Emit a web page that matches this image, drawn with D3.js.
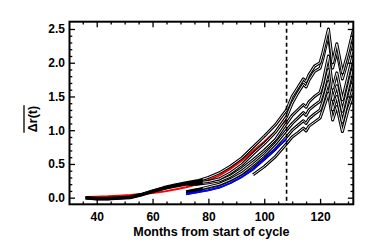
<!DOCTYPE html>
<html>
<head>
<meta charset="utf-8">
<script src="https://cdn.jsdelivr.net/npm/d3@7"></script>
<style>
  html, body { margin: 0; padding: 0; background: #fff; }
  text { font-family: "Liberation Sans", Arial, sans-serif; font-weight: bold; }
</style>
</head>
<body>
<div id="chart"></div>
<script>
// months from start of cycle (shared x grid)
const months = [36, 40, 44, 48, 52, 56, 60, 64, 68, 72, 76, 80, 84, 88, 92, 96, 100, 104, 108,
    110, 112, 114, 115, 116, 118, 120, 121, 123, 124.5, 126, 128, 130, 132]

// black curves (null = not yet started)
const cycleA = [0.00, -0.01, -0.01, 0.00, 0.01, 0.05, 0.10, 0.15, 0.19, 0.22, 0.25, 0.30, 0.37, 0.47, 0.59, 0.75, 0.91, 1.08, 1.30,
    1.50, 1.63, 1.76, 1.72, 1.82, 1.95, 2.00, 2.15, 2.50, 2.00, 2.28, 1.85, 2.15, 2.50]
const cycleB = [0.00, -0.015, -0.015, -0.005, 0.005, 0.045, 0.095, 0.14, 0.18, 0.21, 0.22, 0.24, 0.28, 0.37, 0.49, 0.65, 0.80, 0.97, 1.20,
    1.40, 1.55, 1.68, 1.64, 1.74, 1.87, 1.92, 2.06, 2.42, 1.92, 2.17, 1.76, 2.05, 2.40]
const cycleC = [-0.005, -0.02, -0.02, -0.01, 0.00, 0.04, 0.09, 0.135, 0.17, 0.20, 0.20, 0.22, 0.25, 0.32, 0.43, 0.56, 0.70, 0.86, 1.10,
    1.22, 1.30, 1.38, 1.34, 1.42, 1.50, 1.56, 1.70, 2.10, 1.62, 1.85, 1.45, 1.80, 2.15]
const cycleD = [null, null, null, null, null, null, null, null, null, 0.09, 0.12, 0.16, 0.20, 0.27, 0.36, 0.49, 0.63, 0.80, 1.00,
    1.10, 1.18, 1.26, 1.22, 1.30, 1.37, 1.43, 1.56, 1.90, 1.45, 1.66, 1.28, 1.62, 1.98]
const cycleE = [null, null, null, null, null, null, null, null, null, 0.06, 0.09, 0.12, 0.16, 0.23, 0.32, 0.43, 0.57, 0.72, 0.90,
    1.00, 1.07, 1.14, 1.10, 1.17, 1.24, 1.30, 1.42, 1.72, 1.30, 1.50, 1.12, 1.45, 1.78]
const cycleF = [null, null, null, null, null, null, null, null, null, null, null, null, null, null, null, 0.34, 0.46, 0.61, 0.80,
    0.90, 0.96, 1.03, 0.99, 1.06, 1.12, 1.18, 1.30, 1.55, 1.15, 1.35, 0.98, 1.30, 1.55]

// fitted curves (only up to month 108)
const redFit = [0.01, 0.015, 0.02, 0.03, 0.04, 0.055, 0.07, 0.09, 0.12, 0.155, 0.20, 0.26, 0.33, 0.43, 0.55, 0.69, 0.83, 0.98, 1.16]
const blueFit = [null, null, null, null, null, null, null, null, null, 0.05, 0.08, 0.11, 0.15, 0.22, 0.31, 0.42, 0.57, 0.72, 0.87]

const xTicks = [40, 60, 80, 100, 120]
const yTicks = [0.0, 0.5, 1.0, 1.5, 2.0, 2.5]
const markerMonth = 108

const dimensions = {
    width: 374,
    height: 249,
    margin: { top: 21.7, right: 20.7, bottom: 44.7, left: 69.5 },
}
dimensions.boundedWidth = dimensions.width - dimensions.margin.left - dimensions.margin.right
dimensions.boundedHeight = dimensions.height - dimensions.margin.top - dimensions.margin.bottom

const wrapper = d3.select("#chart")
    .append("svg")
    .attr("width", dimensions.width)
    .attr("height", dimensions.height)

const bounds = wrapper.append("g")
    .attr("transform", `translate(${dimensions.margin.left},${dimensions.margin.top})`)

const xScale = d3.scaleLinear()
    .domain([30.25, 131.9])
    .range([0, dimensions.boundedWidth])
const yScale = d3.scaleLinear()
    .domain([-0.098, 2.608])
    .range([dimensions.boundedHeight, 0])

bounds.append("clipPath").attr("id", "plot-clip")
    .append("rect")
    .attr("width", dimensions.boundedWidth)
    .attr("height", dimensions.boundedHeight)

// the white core of the curves only shows once they separate
bounds.append("clipPath").attr("id", "core-clip")
    .append("rect")
    .attr("x", xScale(78))
    .attr("width", dimensions.boundedWidth - xScale(78))
    .attr("height", dimensions.boundedHeight)

const plot = bounds.append("g").attr("clip-path", "url(#plot-clip)")

const lineGen = d3.line()
    .defined(d => d[1] != null)
    .x(d => xScale(d[0]))
    .y(d => yScale(d[1]))

const pairs = vals => vals.map((v, i) => [months[i], v])

// red fit sits underneath the black curves
plot.append("path")
    .attr("d", lineGen(pairs(redFit)))
    .attr("fill", "none")
    .attr("stroke", "#ff0000")
    .attr("stroke-width", 2)

const cycles = [cycleF, cycleE, cycleD, cycleC, cycleB, cycleA]
cycles.forEach(c => {
    plot.append("path")
        .attr("d", lineGen(pairs(c)))
        .attr("fill", "none")
        .attr("stroke", "#000")
        .attr("stroke-width", 3)
        .attr("stroke-linejoin", "round")
    plot.append("path")
        .attr("d", lineGen(pairs(c)))
        .attr("clip-path", "url(#core-clip)")
        .attr("fill", "none")
        .attr("stroke", "#fff")
        .attr("stroke-width", 0.9)
        .attr("stroke-linejoin", "round")
})

plot.append("path")
    .attr("d", lineGen(pairs(blueFit)))
    .attr("fill", "none")
    .attr("stroke", "#0000ff")
    .attr("stroke-width", 2)

// dashed marker
bounds.append("line")
    .attr("x1", xScale(markerMonth)).attr("x2", xScale(markerMonth))
    .attr("y1", 0).attr("y2", dimensions.boundedHeight)
    .attr("stroke", "#000")
    .attr("stroke-width", 1.6)
    .attr("stroke-dasharray", "4,3")

// axes: ticks inward on all four sides
const xMinor = d3.range(35, 131, 5).filter(v => !xTicks.includes(v))
const yMinor = d3.range(0, 26).map(v => v / 10).filter(v => !yTicks.some(t => Math.abs(t - v) < 1e-6))

function styleAxis(g) {
    g.select(".domain").remove()
    g.selectAll(".tick line").attr("stroke-width", 1.3)
    g.selectAll("text").attr("fill", "#000").style("font-size", "12px")
        .style("font-family", "'Liberation Sans', Arial, sans-serif").style("font-weight", "bold")
}

bounds.append("g")
    .attr("transform", `translate(0,${dimensions.boundedHeight})`)
    .call(d3.axisBottom(xScale).tickValues(xTicks).tickSize(-5.5).tickPadding(8).tickFormat(d3.format("d")))
    .call(styleAxis)
bounds.append("g")
    .attr("transform", `translate(0,${dimensions.boundedHeight})`)
    .call(d3.axisBottom(xScale).tickValues(xMinor).tickSize(-2.8).tickFormat(""))
    .call(styleAxis)
bounds.append("g")
    .call(d3.axisTop(xScale).tickValues(xTicks).tickSize(-5.5).tickFormat(""))
    .call(styleAxis)
bounds.append("g")
    .call(d3.axisTop(xScale).tickValues(xMinor).tickSize(-2.8).tickFormat(""))
    .call(styleAxis)

bounds.append("g")
    .call(d3.axisLeft(yScale).tickValues(yTicks).tickSize(-5.5).tickPadding(4.5).tickFormat(d3.format(".1f")))
    .call(styleAxis)
bounds.append("g")
    .call(d3.axisLeft(yScale).tickValues(yMinor).tickSize(-2.8).tickFormat(""))
    .call(styleAxis)
bounds.append("g")
    .attr("transform", `translate(${dimensions.boundedWidth},0)`)
    .call(d3.axisRight(yScale).tickValues(yTicks).tickSize(-5.5).tickFormat(""))
    .call(styleAxis)
bounds.append("g")
    .attr("transform", `translate(${dimensions.boundedWidth},0)`)
    .call(d3.axisRight(yScale).tickValues(yMinor).tickSize(-2.8).tickFormat(""))
    .call(styleAxis)

// frame
bounds.append("rect")
    .attr("width", dimensions.boundedWidth)
    .attr("height", dimensions.boundedHeight)
    .attr("fill", "none")
    .attr("stroke", "#000")
    .attr("stroke-width", 2)

// axis titles
bounds.append("text")
    .attr("x", dimensions.boundedWidth / 2)
    .attr("y", dimensions.boundedHeight + 32)
    .attr("text-anchor", "middle")
    .attr("fill", "#000")
    .style("font-size", "12.5px")
    .text("Months from start of cycle")

const yTitle = wrapper.append("g")
    .attr("transform", `translate(37,119) rotate(-90)`)
const yTitleText = yTitle.append("text")
    .attr("text-anchor", "middle")
    .attr("fill", "#000")
    .style("font-size", "12.5px")
    .text("\u0394r(t)")
const tl = yTitleText.node().getComputedTextLength()
yTitle.append("line")
    .attr("x1", -tl / 2 - 0.5).attr("x2", tl / 2 + 0.5)
    .attr("y1", -13).attr("y2", -13)
    .attr("stroke", "#000")
    .attr("stroke-width", 1.3)
</script>
</body>
</html>
